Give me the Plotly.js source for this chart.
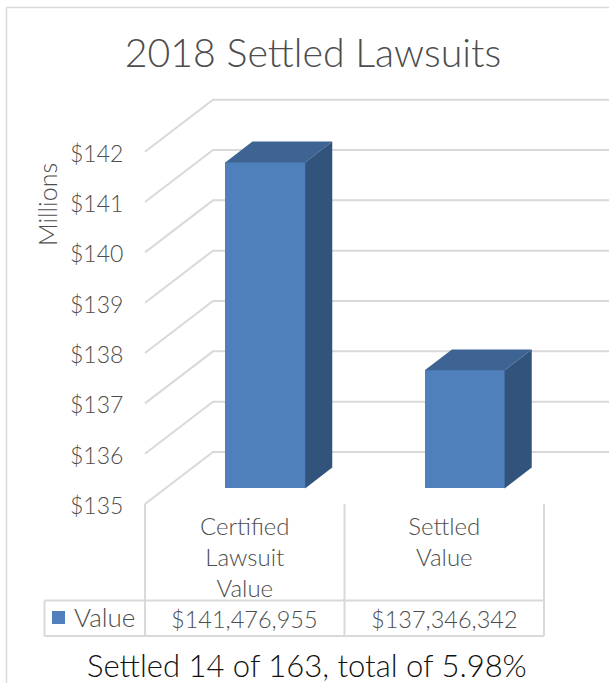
<!DOCTYPE html>
<html>
<head>
<meta charset="utf-8">
<script src="https://cdn.plot.ly/plotly-3.0.1.min.js"></script>
<style>html,body{margin:0;padding:0;background:#fff}</style>
</head>
<body>
<div id="chart" style="width:609px;height:683px"></div>
<script>
const categories = ['Certified<br>Lawsuit<br>Value', 'Settled<br>Value'];
const seriesName = 'Value';
const settledDollars = [141476955, 137346342];
const yTicks = [135, 136, 137, 138, 139, 140, 141, 142];
const chartTitle = '2018 Settled Lawsuits';
const caption = 'Settled 14 of 163, total of 5.98%';
const axisTitle = 'Millions';

const W = 609, H = 683;
// the category band runs 145..544 px, the value band 504..151.7 px
const bandL = 145, bandR = 544, bandT = 151.7;
const L = 143, R = W, T = 90, B = 504;
const font = 'Lato, "Open Sans", sans-serif';
const weight = 300;
const grey = '#4d4d4d', line = '#d9d9d9';
const front = '#4f80bc', topFace = '#3e6493', sideFace = '#32547c';

const unitX = (bandR - bandL) / 2, unitY = (B - bandT) / 7;
const xFirst = -0.5, yMin = 135, yTop = 142;
const xMin = xFirst - (bandL - L) / unitX, xMax = xFirst + (R - bandL) / unitX;
const yMax = yTop + (bandT - T) / unitY;
const depthX = 68 / unitX, depthY = 52 / unitY;
const barW = 0.4, barNear = 0.3, barFar = 0.7;
const positions = categories.map((_, i) => i);
const values = settledDollars.map(v => v / 1e6);
const px = x => (x - L) / (R - L);
const py = y => (B - y) / (B - T);

const traces = [];
// side wall + back wall gridlines, on the primary subplot (below the bars)
const gx = [], gy = [];
yTicks.forEach(t => {
  gx.push(xFirst, xFirst + depthX, xMax, null);
  gy.push(t, t + depthY, t + depthY, null);
});
traces.push({type: 'scatter', mode: 'lines', x: gx, y: gy, hoverinfo: 'skip', showlegend: false,
  line: {color: line, width: 2}});

// front face, real bars, pushed back into the depth of the box
const shiftX = barNear * depthX, shiftY = barNear * depthY;
traces.push({type: 'bar', name: seriesName, xaxis: 'x2', yaxis: 'y2', width: barW,
  x: positions.map(p => p + shiftX),
  y: values.map(v => v - yMin),
  base: values.map(() => yMin + shiftY),
  marker: {color: front, line: {width: 0}}, showlegend: false});

// depth faces of each bar
const d = barFar - barNear;
positions.forEach((p, i) => {
  const x0 = p + shiftX - barW / 2, x1 = x0 + barW, top = values[i] + shiftY, bot = yMin + shiftY;
  const ddx = d * depthX, ddy = d * depthY;
  traces.push({type: 'scatter', mode: 'lines', xaxis: 'x2', yaxis: 'y2', fill: 'toself', fillcolor: topFace,
    line: {width: 0, color: topFace}, hoverinfo: 'skip', showlegend: false,
    x: [x0, x1, x1 + ddx, x0 + ddx, x0], y: [top, top, top + ddy, top + ddy, top]});
  traces.push({type: 'scatter', mode: 'lines', xaxis: 'x2', yaxis: 'y2', fill: 'toself', fillcolor: sideFace,
    line: {width: 0, color: sideFace}, hoverinfo: 'skip', showlegend: false,
    x: [x1, x1 + ddx, x1 + ddx, x1, x1], y: [top, top + ddy, bot + ddy, bot, top]});
});

const seg = (x0, y0, x1, y1, color, width) => ({type: 'line', xref: 'paper', yref: 'paper',
  x0: px(x0), y0: py(y0), x1: px(x1), y1: py(y1), line: {color: color || line, width: width || 2}});
const tableTop = 600.5, tableBot = 636, keyX = 44.5;
const xBounds = [bandL, (bandL + bandR) / 2, bandR];
const shapes = [
  seg(6.5, 7.5, 6.5, H, line, 1.5),
  seg(6.5, 7.5, W, 7.5, line, 1.5),
  seg(keyX, tableTop, bandR, tableTop),
  seg(keyX, tableBot, bandR, tableBot),
  seg(keyX, tableTop, keyX, tableBot),
  ...xBounds.map(x => seg(x, B, x, tableBot)),
  {type: 'rect', xref: 'paper', yref: 'paper', x0: px(52), x1: px(65), y0: py(611), y1: py(624),
    fillcolor: front, line: {width: 0}}
];

const note = (x, y, text, size, color, extra) => Object.assign({xref: 'paper', yref: 'paper', x: px(x), y: py(y),
  text, showarrow: false, xanchor: 'center', yanchor: 'middle',
  font: {family: font, size, weight, color: color || grey}}, extra || {});
const annotations = [
  note(47, 205, axisTitle, 25, grey, {textangle: -90}),
  note(104.5, 617, seriesName, 26),
  ...positions.map(p => note(bandL + (p + 0.5) * (bandR - bandL) / 2, 618.5, '$' + settledDollars[p].toLocaleString('en-US'), 23.5)),
  note(307, 665, caption, 31, '#111111')
];

const layout = {
  width: W, height: H, autosize: false, showlegend: false,
  paper_bgcolor: '#fff', plot_bgcolor: 'rgba(0,0,0,0)',
  margin: {l: L, r: W - R, t: T, b: H - B, pad: 0},
  title: {text: chartTitle, x: 313 / W, xanchor: 'center', y: 1 - 53 / H, yanchor: 'middle',
    font: {family: font, size: 39.3, weight, color: grey}},
  xaxis: {range: [xMin, xMax], tickmode: 'array', tickvals: positions, ticktext: categories, showgrid: false,
    zeroline: false, showline: false, ticks: 'outside', ticklen: 1, tickcolor: 'rgba(0,0,0,0)',
    tickfont: {family: font, size: 24, weight, color: grey}, tickangle: 0},
  yaxis: {range: [yMin, yMax], tickmode: 'array', tickvals: yTicks, ticktext: yTicks.map(t => '$' + t), showgrid: false,
    zeroline: false, showline: false, ticks: 'outside', ticklen: 14, tickcolor: 'rgba(0,0,0,0)', ticklabelshift: 2,
    tickfont: {family: font, size: 23, weight, color: grey}},
  xaxis2: {range: [xMin, xMax], overlaying: 'x', visible: false, anchor: 'y2'},
  yaxis2: {range: [yMin, yMax], overlaying: 'y', visible: false, anchor: 'x2'},
  bargap: 0, shapes, annotations
};
Plotly.newPlot('chart', traces, layout, {displayModeBar: false, staticPlot: true});
</script>
</body>
</html>
